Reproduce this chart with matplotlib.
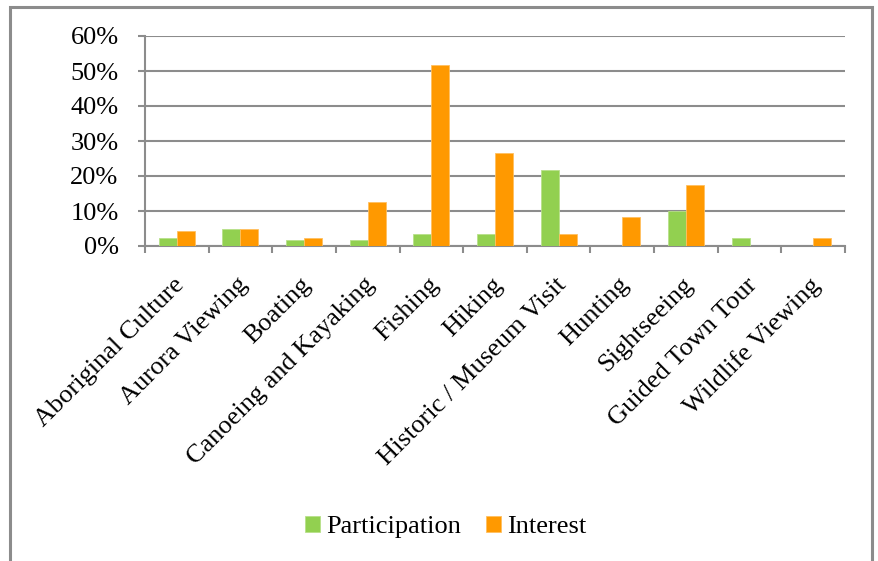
import numpy as np
import matplotlib
matplotlib.use("Agg")
import matplotlib.pyplot as plt
import matplotlib.transforms as mtransforms
from matplotlib.patches import Rectangle
from matplotlib.ticker import PercentFormatter, MultipleLocator, FixedLocator, NullFormatter

categories = ["Aboriginal Culture", "Aurora Viewing", "Boating",
              "Canoeing and Kayaking", "Fishing", "Hiking",
              "Historic / Museum Visit", "Hunting", "Sightseeing",
              "Guided Town Tour", "Wildlife Viewing"]
participation = [2.4, 5.0, 1.7, 1.7, 3.3, 3.3, 21.7, 0.0, 10.0, 2.4, 0.0]
interest = [4.2, 5.0, 2.4, 12.5, 51.7, 26.7, 3.3, 8.3, 17.5, 0.0, 2.4]

GREEN = "#92D050"
ORANGE = "#FF9900"
GREY = "#8C8C8C"
FS = 19

plt.rcParams["font.family"] = ["Liberation Serif", "DejaVu Serif"]

fig = plt.figure(figsize=(8.79, 5.61), dpi=100)
W, H = 879, 561
ax = fig.add_axes([145 / W, 1 - 246 / H, 700 / W, 210 / H])

x = np.arange(len(categories))
bw = 0.283
ax.bar(x - bw / 2, participation, bw, color=GREEN, edgecolor="#B8E08A",
       linewidth=0.6, label="Participation", zorder=3)
ax.bar(x + bw / 2, interest, bw, color=ORANGE, edgecolor="#FFC060",
       linewidth=0.6, label="Interest", zorder=3)

ax.set_xlim(-0.5, len(categories) - 0.5)
ax.set_ylim(0, 60)
ax.yaxis.set_major_locator(MultipleLocator(10))
ax.yaxis.set_major_formatter(PercentFormatter(decimals=0))
ax.grid(axis="y", color=GREY, lw=1.5, zorder=0)

# category boundaries carry the ticks, labels sit between them
ax.xaxis.set_major_locator(FixedLocator(np.arange(len(categories) + 1) - 0.5))
ax.xaxis.set_major_formatter(NullFormatter())
ax.xaxis.set_minor_locator(FixedLocator(x))
ax.set_xticklabels(categories, minor=True, rotation=45, ha="right",
                   rotation_mode="anchor", fontsize=FS)
ax.tick_params(axis="x", which="major", direction="out", length=5,
               width=1.5, color=GREY)
ax.tick_params(axis="x", which="minor", length=0, pad=20)
ax.tick_params(axis="y", direction="out", length=5, width=1.5, color=GREY,
               labelsize=FS, pad=14)

# nudge the slanted labels a little to the left
shift = mtransforms.ScaledTranslation(-4 / 100, 0, fig.dpi_scale_trans)
for lbl in ax.get_xticklabels(minor=True):
    lbl.set_transform(lbl.get_transform() + shift)

for side in ("top", "right"):
    ax.spines[side].set_visible(False)
for side in ("left", "bottom"):
    ax.spines[side].set_color(GREY)
    ax.spines[side].set_linewidth(1.5)

fig.legend(loc="center", bbox_to_anchor=(446 / W, 1 - 527 / H), ncol=2,
           frameon=False, fontsize=FS, handlelength=0.55, handleheight=0.55,
           handletextpad=0.25, columnspacing=0.95)

# outer chart frame
fig.patches.append(Rectangle((10 / W, -0.02), 862 / W, 1.02 - 7 / H,
                             transform=fig.transFigure, fill=False,
                             edgecolor=GREY, lw=2.2))

fig.savefig("out.png", dpi=100)
